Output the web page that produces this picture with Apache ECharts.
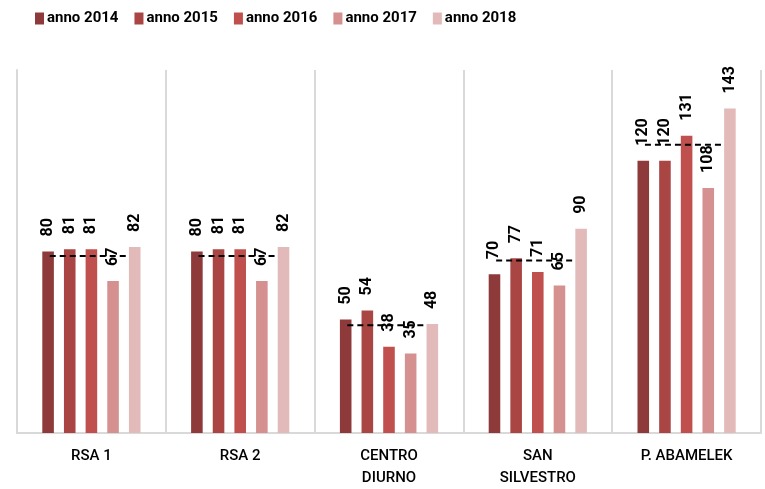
<!DOCTYPE html>
<html>
<head>
<meta charset="utf-8">
<script src="https://cdn.jsdelivr.net/npm/echarts@6/dist/echarts.min.js"></script>
<style>
  html, body { margin: 0; padding: 0; background: #fff; }
  #chart { width: 765px; height: 489px; }
</style>
</head>
<body>
<div id="chart"></div>
<script>
// categorie e anni
const categories = ['RSA 1', 'RSA 2', 'CENTRO\nDIURNO', 'SAN\nSILVESTRO', 'P. ABAMELEK'];
const years = ['anno 2014', 'anno 2015', 'anno 2016', 'anno 2017', 'anno 2018'];

// valori per anno
const v2014 = [80, 80, 50, 70, 120];
const v2015 = [81, 81, 54, 77, 120];
const v2016 = [81, 81, 38, 71, 131];
const v2017 = [67, 67, 35, 65, 108];
const v2018 = [82, 82, 48, 90, 143];

// linea tratteggiata (media) per gruppo
const media = [78, 78, 47.5, 76, 127];

const colors = ['#8E3A3A', '#A94644', '#C0504D', '#D49190', '#E3BABA'];
const values = [v2014, v2015, v2016, v2017, v2018];

const chart = echarts.init(document.getElementById('chart'));

const barSeries = years.map((name, i) => ({
  name: name,
  type: 'bar',
  data: values[i],
  barCategoryGap: '34%',
  barGap: '87%',
  itemStyle: { color: colors[i] },
  label: {
    show: true,
    position: 'top',
    rotate: 90,
    align: 'left',
    verticalAlign: 'middle',
    distance: 15,
    color: '#000',
    fontFamily: 'Roboto, sans-serif',
    fontWeight: 'bold',
    fontSize: 16
  }
}));

const option = {
  animation: false,
  color: colors,
  legend: {
    left: 35,
    top: 11,
    padding: 0,
    itemWidth: 9,
    itemHeight: 12,
    itemGap: 16,
    icon: 'rect',
    textStyle: {
      color: '#000',
      fontFamily: 'Roboto, sans-serif',
      fontWeight: 'bold',
      fontSize: 15,
      padding: [0, 0, 0, -2]
    },
    data: years
  },
  grid: { left: 17, right: 4, top: 70, bottom: 54 },
  xAxis: {
    type: 'category',
    data: categories,
    axisLine: { lineStyle: { color: '#d9d9d9', width: 2 } },
    axisTick: { show: false },
    splitLine: { show: true, lineStyle: { color: '#d9d9d9', width: 2 } },
    axisLabel: {
      color: '#000',
      fontFamily: 'Roboto, sans-serif',
      fontWeight: 500,
      fontSize: 15,
      lineHeight: 22,
      margin: 12,
      interval: 0
    }
  },
  yAxis: {
    type: 'value',
    min: 0,
    max: 160,
    axisLabel: { show: false },
    axisTick: { show: false },
    splitLine: { show: false },
    axisLine: { show: true, lineStyle: { color: '#d9d9d9', width: 2 } }
  },
  series: barSeries.concat([{
    name: 'media',
    type: 'custom',
    z: 5,
    data: media.map((m, i) => [i, m]),
    renderItem: function (params, api) {
      const pt = api.coord([api.value(0), api.value(1)]);
      const band = api.size([1, 0])[0];
      return {
        type: 'line',
        shape: { x1: pt[0] - band * 0.28, y1: pt[1], x2: pt[0] + band * 0.25, y2: pt[1] },
        style: { stroke: '#000', lineWidth: 2, lineDash: [6, 4] }
      };
    }
  }])
};

chart.setOption(option);
</script>
</body>
</html>
